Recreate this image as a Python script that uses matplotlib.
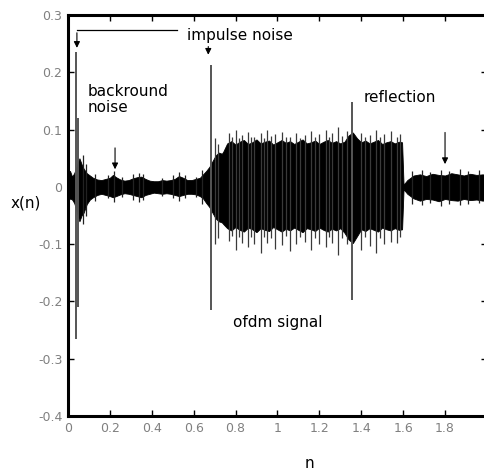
import numpy as np
import matplotlib
matplotlib.use('Agg')
import matplotlib.pyplot as plt

# envelope of the received signal x(n)
env_n = [0.000, 0.010, 0.020, 0.030, 0.036, 0.055, 0.065, 0.075, 0.090, 0.105,
         0.120, 0.140, 0.160, 0.180, 0.200, 0.215, 0.230, 0.250, 0.270, 0.290,
         0.310, 0.330, 0.350, 0.370, 0.390, 0.410, 0.430, 0.450, 0.470, 0.490,
         0.510, 0.530, 0.550, 0.570, 0.590, 0.610, 0.630, 0.645, 0.660, 0.675,
         0.690, 0.705, 0.720, 0.735, 0.742,
         0.76, 0.78, 0.80, 0.82, 0.84, 0.86, 0.88, 0.90, 0.92, 0.94,
         0.96, 0.98, 1.00, 1.02, 1.04, 1.06, 1.08, 1.10, 1.12, 1.14,
         1.16, 1.18, 1.20, 1.22, 1.24, 1.26, 1.28, 1.30, 1.32, 1.34,
         1.36, 1.38, 1.40, 1.42, 1.44, 1.46, 1.48, 1.50, 1.52, 1.54,
         1.56, 1.58,
         1.595, 1.602, 1.62, 1.65, 1.68, 1.71, 1.74, 1.77, 1.80, 1.83,
         1.86, 1.89, 1.92, 1.95, 1.98, 2.00]
env_top = [0.022, 0.028, 0.018, 0.024, 0.030, 0.050, 0.040, 0.032, 0.024, 0.020,
           0.016, 0.013, 0.012, 0.014, 0.016, 0.021, 0.017, 0.013, 0.011, 0.012,
           0.015, 0.017, 0.018, 0.014, 0.011, 0.010, 0.010, 0.012, 0.011, 0.012,
           0.014, 0.019, 0.016, 0.012, 0.012, 0.014, 0.016, 0.022, 0.028, 0.035,
           0.045, 0.055, 0.060, 0.058, 0.062,
           0.076, 0.080, 0.074, 0.079, 0.082, 0.075, 0.078, 0.083, 0.076, 0.079,
           0.081, 0.074, 0.078, 0.082, 0.077, 0.080, 0.075, 0.079, 0.083, 0.076,
           0.078, 0.081, 0.075, 0.079, 0.082, 0.077, 0.080, 0.076, 0.079, 0.090,
           0.095, 0.085, 0.078, 0.081, 0.076, 0.079, 0.082, 0.075, 0.078, 0.080,
           0.076, 0.079,
           0.078, 0.004, 0.012, 0.020, 0.022, 0.019, 0.023, 0.021, 0.020, 0.024,
           0.022, 0.020, 0.023, 0.021, 0.022, 0.020]
env_bot = [-0.025, -0.020, -0.022, -0.028, -0.035, -0.060, -0.050, -0.045, -0.030, -0.022,
           -0.018, -0.014, -0.012, -0.014, -0.016, -0.018, -0.016, -0.013, -0.011, -0.012,
           -0.014, -0.016, -0.018, -0.014, -0.012, -0.010, -0.011, -0.012, -0.011, -0.012,
           -0.014, -0.016, -0.014, -0.012, -0.012, -0.013, -0.016, -0.020, -0.028, -0.035,
           -0.045, -0.055, -0.060, -0.062, -0.065,
           -0.072, -0.076, -0.070, -0.075, -0.078, -0.071, -0.074, -0.079, -0.072, -0.075,
           -0.077, -0.070, -0.074, -0.078, -0.073, -0.076, -0.071, -0.075, -0.079, -0.072,
           -0.074, -0.077, -0.071, -0.075, -0.078, -0.073, -0.076, -0.072, -0.080, -0.092,
           -0.098, -0.086, -0.074, -0.077, -0.072, -0.075, -0.078, -0.071, -0.074, -0.076,
           -0.072, -0.075,
           -0.074, -0.004, -0.012, -0.020, -0.024, -0.021, -0.022, -0.025, -0.021, -0.023,
           -0.024, -0.021, -0.023, -0.022, -0.024, -0.021]

# thin tips sticking out of the OFDM block
hair_n = [0.70, 0.715, 0.77, 0.785, 0.80, 0.815, 0.83, 0.86, 0.875, 0.89, 0.92, 0.935,
          0.95, 0.97, 0.99, 1.02, 1.04, 1.06, 1.09, 1.11, 1.13, 1.16, 1.18, 1.20, 1.23,
          1.245, 1.26, 1.29, 1.31, 1.33, 1.40, 1.42, 1.44, 1.47, 1.49, 1.51, 1.54, 1.57,
          1.585]
hair_top = [0.085, 0.075, 0.095, 0.088, 0.100, 0.086, 0.090, 0.096, 0.087, 0.088, 0.094,
            0.086, 0.100, 0.089, 0.092, 0.096, 0.087, 0.088, 0.095, 0.086, 0.090, 0.098,
            0.088, 0.092, 0.100, 0.087, 0.094, 0.104, 0.089, 0.098, 0.094, 0.087, 0.090,
            0.100, 0.088, 0.093, 0.097, 0.088, 0.092]
hair_bot = [-0.100, -0.090, -0.095, -0.086, -0.110, -0.088, -0.098, -0.105, -0.087, -0.100,
            -0.115, -0.088, -0.098, -0.090, -0.108, -0.102, -0.086, -0.112, -0.100, -0.088,
            -0.096, -0.110, -0.089, -0.100, -0.105, -0.087, -0.098, -0.118, -0.090, -0.100,
            -0.110, -0.088, -0.104, -0.115, -0.089, -0.100, -0.096, -0.098, -0.088]

# small tips on the background and reflection noise
noise_n = [0.07, 0.085, 0.13, 0.19, 0.22, 0.26, 0.31, 0.34, 0.36, 0.45, 0.50, 0.53,
           0.56, 0.61, 0.64, 1.64, 1.69, 1.73, 1.78, 1.82, 1.87, 1.91, 1.96]
noise_top = [0.055, 0.040, 0.022, 0.020, 0.028, 0.018, 0.022, 0.025, 0.022, 0.016, 0.020,
             0.026, 0.020, 0.018, 0.030, 0.028, 0.030, 0.026, 0.030, 0.028, 0.032, 0.027,
             0.029]
noise_bot = [-0.065, -0.050, -0.024, -0.020, -0.026, -0.018, -0.022, -0.026, -0.022, -0.016,
             -0.020, -0.024, -0.020, -0.018, -0.030, -0.030, -0.032, -0.028, -0.033, -0.029,
             -0.031, -0.030, -0.028]

# impulses
spike_n = [0.040, 0.050, 0.685, 1.355]
spike_hi = [0.235, 0.120, 0.213, 0.148]
spike_lo = [-0.265, -0.210, -0.215, -0.197]

x_ticks = [0, 0.2, 0.4, 0.6, 0.8, 1, 1.2, 1.4, 1.6, 1.8, 2]
y_ticks = [-0.4, -0.3, -0.2, -0.1, 0, 0.1, 0.2, 0.3]

fig = plt.figure(figsize=(4.85, 4.73), dpi=100)
ax = fig.add_axes([0.140, 0.1205, 0.864, 0.8475])

ax.fill_between(env_n, env_bot, env_top, color='black', linewidth=0.6, edgecolor='black')
ax.vlines(hair_n, hair_bot, hair_top, color='#3a3a3a', linewidth=0.9)
ax.vlines(noise_n, noise_bot, noise_top, color='#222222', linewidth=0.9)
ax.vlines(spike_n, spike_lo, spike_hi, color='#555555', linewidth=1.4)

ax.set_xlim(0, 2)
ax.set_ylim(-0.4, 0.3)
ax.set_xticks(x_ticks)
ax.set_yticks(y_ticks)
ax.set_xticklabels([f"{v:g}" for v in x_ticks])
ax.set_yticklabels([f"{v:g}" for v in y_ticks])
ax.tick_params(direction='in', length=4, width=1, top=True, right=True,
               labelsize=9, labelcolor='#808080', pad=4)
for sp in ax.spines.values():
    sp.set_linewidth(2.2)

# annotations
arrow = dict(arrowstyle='-|>', color='black', lw=0.8, mutation_scale=9)
ax.plot([0.043, 0.522], [0.274, 0.274], color='black', lw=0.9)
ax.annotate('', xy=(0.043, 0.238), xytext=(0.043, 0.274), arrowprops=arrow)
ax.annotate('', xy=(0.670, 0.226), xytext=(0.670, 0.250), arrowprops=arrow)
ax.annotate('', xy=(0.225, 0.026), xytext=(0.225, 0.073), arrowprops=arrow)
ax.annotate('', xy=(1.800, 0.035), xytext=(1.800, 0.100), arrowprops=arrow)

ax.text(0.570, 0.264, 'impulse noise', fontsize=11, ha='left', va='center')
ax.text(0.096, 0.152, 'backround\nnoise', fontsize=11, ha='left', va='center',
        linespacing=1.1)
ax.text(1.412, 0.157, 'reflection', fontsize=11, ha='left', va='center')
ax.text(0.790, -0.236, 'ofdm signal', fontsize=11, ha='left', va='center')

fig.text(0.054, 0.571, 'x(n)', fontsize=11, ha='center', va='center')
fig.text(0.639, 0.021, 'n', fontsize=11, ha='center', va='center')

fig.savefig('out.png', dpi=100)
